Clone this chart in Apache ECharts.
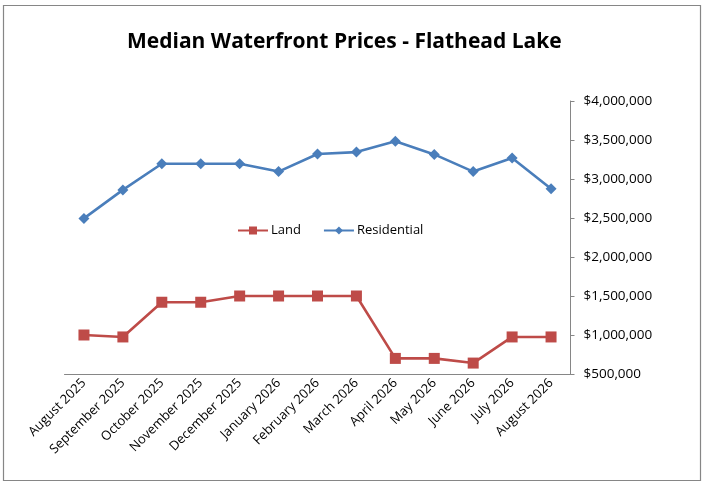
<!DOCTYPE html>
<html>
<head>
<meta charset="utf-8">
<script src="https://cdn.jsdelivr.net/npm/echarts@6/dist/echarts.min.js"></script>
<style>
  html, body { margin: 0; padding: 0; background: #fff; }
  #main { width: 706px; height: 485px; }
</style>
</head>
<body>
<div id="main"></div>
<script>
// months shown on the x axis
const months = ['August 2025', 'September 2025', 'October 2025', 'November 2025', 'December 2025',
  'January 2026', 'February 2026', 'March 2026', 'April 2026', 'May 2026', 'June 2026',
  'July 2026', 'August 2026'];

// median prices
const land = [1000000, 975000, 1420000, 1420000, 1500000, 1500000, 1500000, 1500000,
  700000, 700000, 640000, 975000, 975000];
const residential = [2495000, 2860000, 3195000, 3195000, 3195000, 3095000, 3320000, 3345000,
  3485000, 3315000, 3095000, 3270000, 2875000];

const yTicks = { min: 500000, max: 4000000, step: 500000 };

const font = 'Open Sans';

const myChart = echarts.init(document.getElementById('main'));

function money(v) {
  return '$' + v.toLocaleString('en-US');
}

const option = {
  animation: false,
  backgroundColor: '#fff',
  textStyle: { fontFamily: font },
  graphic: [{
    type: 'rect',
    shape: { x: 3.5, y: 5.5, width: 697, height: 475 },
    style: { fill: 'none', stroke: '#868686', lineWidth: 1.2 }
  }],
  title: {
    text: 'Median Waterfront Prices - Flathead Lake',
    left: 122,
    top: 27,
    textStyle: { fontFamily: font, fontSize: 21, fontWeight: 'bold', color: '#000' }
  },
  legend: {
    left: 232,
    top: 219,
    itemWidth: 30,
    itemHeight: 10,
    itemGap: 22,
    textStyle: { fontFamily: font, fontSize: 13, color: '#000', padding: [0, 0, 0, -2] },
    data: ['Land', 'Residential']
  },
  grid: { left: 64.5, right: 135.5, top: 101, bottom: 111 },
  xAxis: {
    type: 'category',
    data: months,
    boundaryGap: true,
    axisLine: { lineStyle: { color: '#868686', width: 1 } },
    axisTick: { show: false },
    axisLabel: { rotate: 45, color: '#000', fontSize: 13, fontFamily: font, margin: 7, interval: 0 }
  },
  yAxis: {
    type: 'value',
    position: 'right',
    min: yTicks.min,
    max: yTicks.max,
    interval: yTicks.step,
    splitLine: { show: false },
    axisLine: { show: true, lineStyle: { color: '#868686', width: 1 } },
    axisTick: { show: true, length: 4, lineStyle: { color: '#868686' } },
    axisLabel: { color: '#000', fontSize: 13.5, fontFamily: font, margin: 13, formatter: money }
  },
  series: [
    {
      name: 'Land',
      type: 'line',
      data: land,
      symbol: 'rect',
      symbolSize: 11,
      itemStyle: { color: '#BE4B48' },
      lineStyle: { color: '#BE4B48', width: 2.6 }
    },
    {
      name: 'Residential',
      type: 'line',
      data: residential,
      symbol: 'diamond',
      symbolSize: 11,
      itemStyle: { color: '#4A7EBB' },
      lineStyle: { color: '#4A7EBB', width: 2.6 }
    }
  ]
};

myChart.setOption(option);
</script>
</body>
</html>
